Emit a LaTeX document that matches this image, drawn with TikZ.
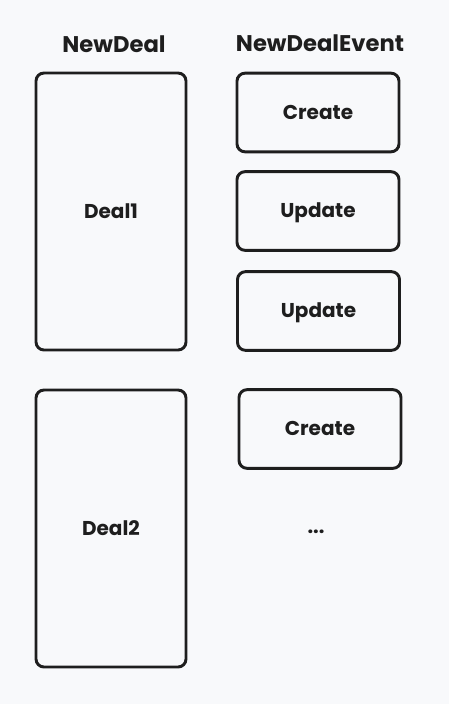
\documentclass[tikz,border=0pt]{standalone}
\usepackage{fontspec}
\setmainfont{Poppins}
\usepackage{xcolor}
\definecolor{ink}{HTML}{1E1E1E}
\definecolor{paper}{HTML}{F8F9FB}
\usetikzlibrary{positioning}

\tikzset{
    box/.style={draw=ink, line width=2.2pt, rounded corners=6pt, inner sep=0pt},
    dealbox/.style={box, minimum width=112.5pt, minimum height=207.75pt},
    eventbox/.style={box, minimum width=121.5pt, minimum height=59pt},
    lbl/.style={text=ink, font=\fontsize{17}{19}\selectfont\bfseries},
    txt/.style={text=ink, text height=1.1em, text depth=0.12em, font=\fontsize{15}{17}\selectfont\bfseries}
}

\begin{document}
\begin{tikzpicture}[x=0.75pt, y=-0.75pt]
        \fill[paper] (0,0) rectangle (449,704);
        \useasboundingbox (0,0) rectangle (449,704);

        % column titles
        \node[lbl] (titledeal) at (114,44) {NewDeal};
        \node[lbl] (titleevent) at (320,43) {NewDealEvent};

        % deals
        \node[dealbox, txt] (deal1) at (111,211.5) {Deal1};
        \node[dealbox, txt] (deal2) at (111,528.5) {Deal2};

        % events
        \node[eventbox, txt] (create1) at (318,112.5) {Create};
        \node[eventbox, txt] (update1) at (318,211) {Update};
        \node[eventbox, txt] (update2) at (318.5,311) {Update};
        \node[eventbox, txt] (create2) at (320,429) {Create};

        \node[txt] (more) at (316,527) {...};
    \end{tikzpicture}
\end{document}
